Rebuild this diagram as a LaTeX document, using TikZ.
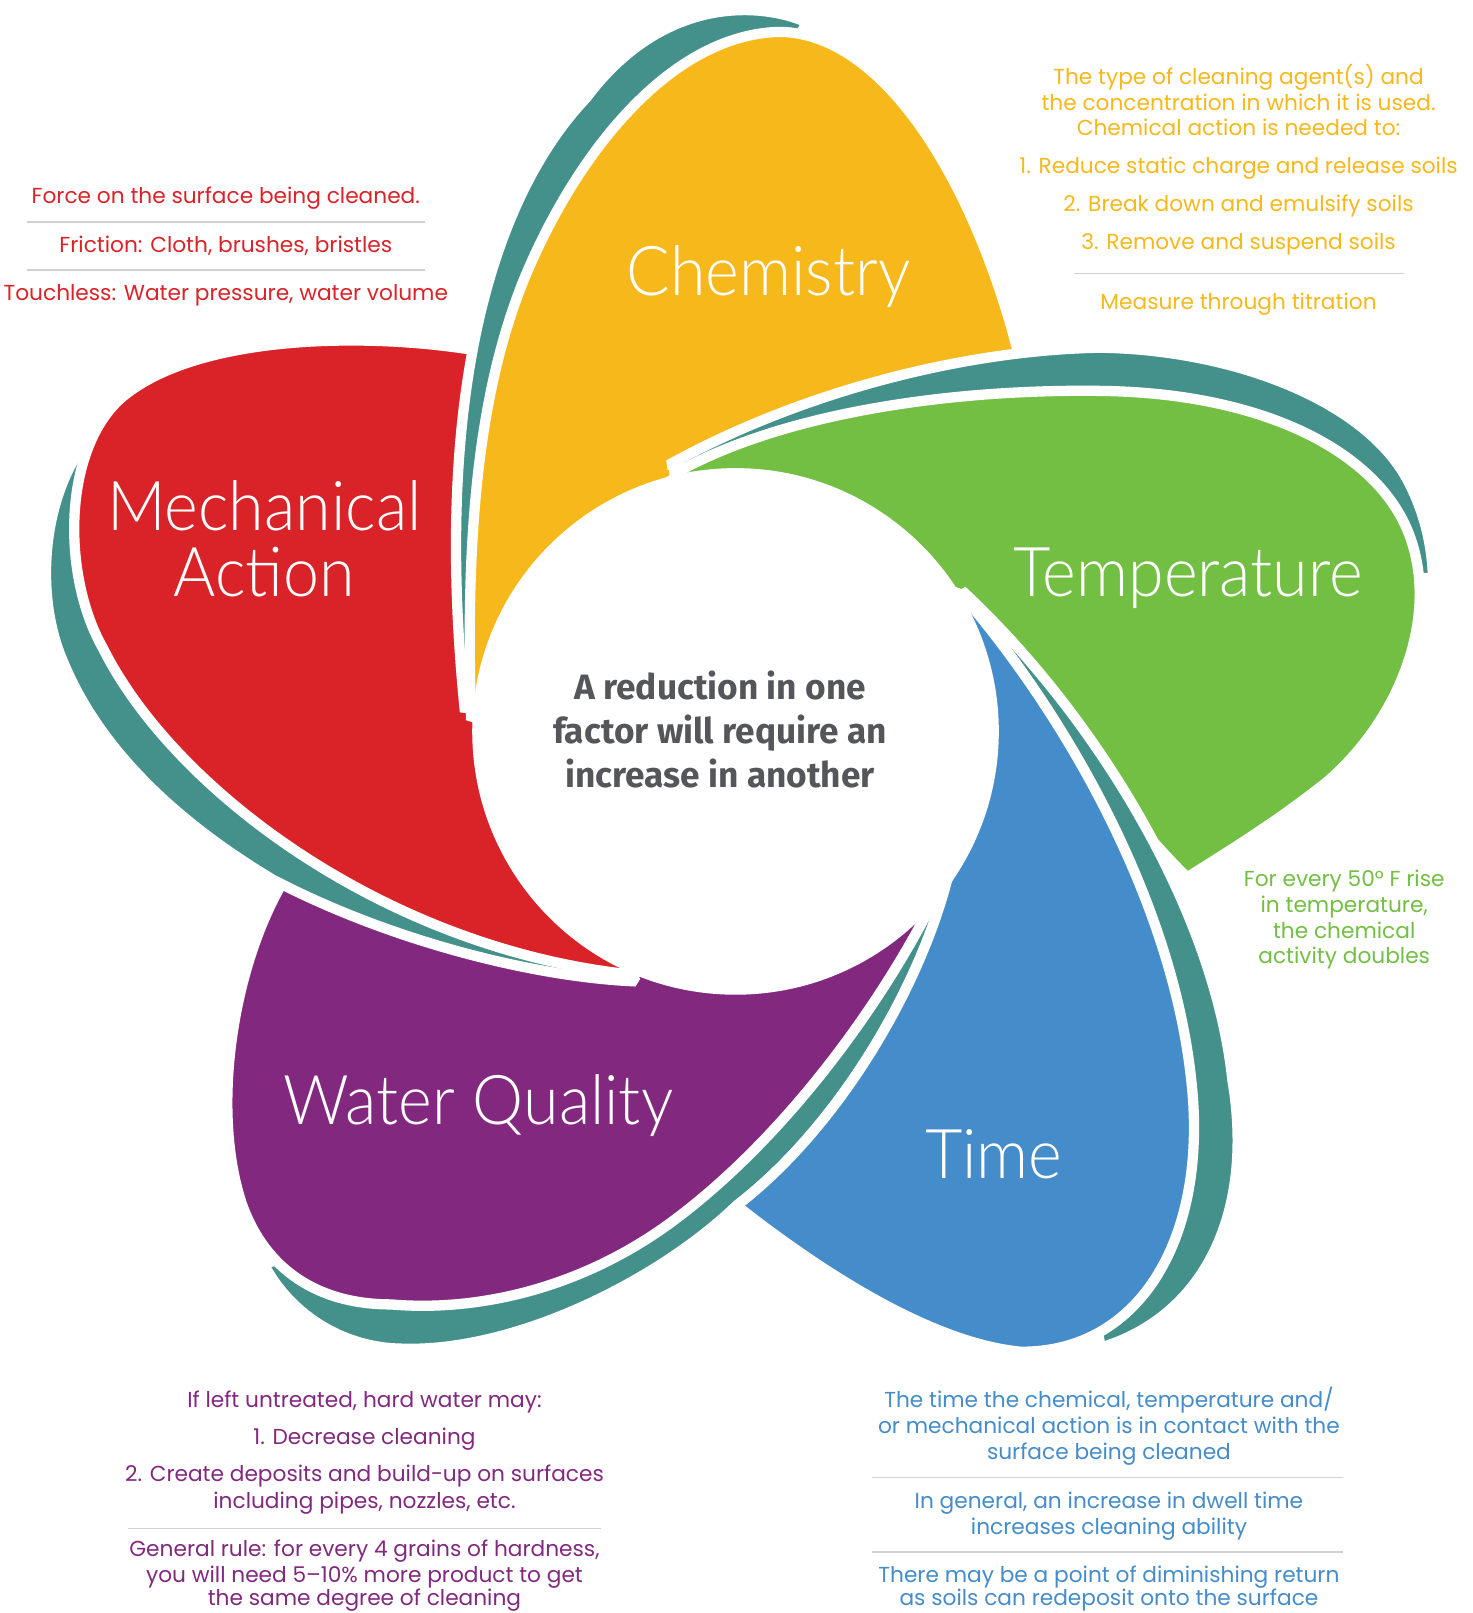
\documentclass[tikz,border=0pt]{standalone}
\usepackage{fontspec}
\setmainfont{Poppins}
\newfontfamily\titlefont{Lato Light}[FakeStretch=0.94]
\newfontfamily\hubfont{Fira Sans}

\definecolor{chemyellow}{HTML}{F6B81B}
\definecolor{tempgreen}{HTML}{72BF44}
\definecolor{timeblue}{HTML}{458CCA}
\definecolor{waterpurple}{HTML}{82297F}
\definecolor{mechred}{HTML}{DA2328}
\definecolor{bandteal}{HTML}{43918A}
\definecolor{hubgrey}{HTML}{55565A}
\definecolor{rulegrey}{HTML}{D0D0D0}

\tikzset{
  petal/.style={fill=#1, draw=white, line width=0.2cm, line join=bevel},
  petaltitle/.style={text=white, anchor=base, inner sep=0pt,
    font=\titlefont\fontsize{38}{40}\selectfont},
  notetext/.style={text=#1, anchor=base, inner sep=0pt,
    font=\fontsize{12}{14}\selectfont},
  hubtext/.style={text=hubgrey, align=center,
    font=\hubfont\bfseries\fontsize{19.5}{24.4}\selectfont},
  seprule/.style={draw=rulegrey, line width=0.9pt},
}

\begin{document}
\begin{tikzpicture}[x=0.02cm, y=-0.02cm]
  \useasboundingbox (0,0) rectangle (1431,1568);

  % Water Quality band and petal
  \path[petal=bandteal] (920,858) .. controls (890,970) and (810,1100) .. (716,1172)
    .. controls (640,1245) and (500,1315) .. (390,1311)
    .. controls (330,1310) and (280,1275) .. (256,1228)
    -- (400,1200) -- (700,1050) -- (905,868) -- cycle;
  \path[petal=waterpurple] (915,860) .. controls (860,975) and (760,1110) .. (650,1190)
    .. controls (560,1255) and (460,1275) .. (380,1268)
    .. controls (310,1268) and (258,1235) .. (235,1170)
    .. controls (205,1080) and (225,940) .. (277,854)
    -- (290,825) .. controls (450,900) and (600,945) .. (700,930) -- cycle;

  % Mechanical Action band and petal
  \path[petal=bandteal] (80,434) .. controls (40,490) and (35,580) .. (60,640)
    .. controls (100,740) and (190,810) .. (265,855)
    .. controls (380,915) and (520,950) .. (618,954)
    -- (560,850) -- (300,620) -- cycle;
  \path[petal=mechred] (470,342) .. controls (380,325) and (200,320) .. (120,385)
    .. controls (60,435) and (60,560) .. (100,630)
    .. controls (170,770) and (380,925) .. (620,948)
    -- (540,820) -- (490,690) -- cycle;

  % Chemistry band and petal
  \path[petal=bandteal] (785,22) .. controls (740,2) and (645,-5) .. (570,95)
    .. controls (480,190) and (420,380) .. (452,692)
    -- (520,500) -- (700,150) -- cycle;
  \path[petal=chemyellow] (458,700) .. controls (452,520) and (465,380) .. (510,270)
    .. controls (560,150) and (650,35) .. (756,31)
    .. controls (860,30) and (950,180) .. (992,352)
    .. controls (880,365) and (720,420) .. (615,490)
    -- (560,560) -- cycle;

  % Temperature band and petal
  \path[petal=bandteal] (650,452) .. controls (780,380) and (940,340) .. (1070,338)
    .. controls (1200,340) and (1330,390) .. (1370,470)
    .. controls (1385,500) and (1392,530) .. (1393,562)
    -- (1250,560) -- (900,500) -- cycle;
  \path[petal=tempgreen] (653,462) .. controls (760,400) and (930,378) .. (1070,380)
    .. controls (1230,382) and (1340,440) .. (1370,520)
    .. controls (1400,600) and (1360,700) .. (1290,760)
    .. controls (1240,800) and (1190,830) .. (1154,853)
    .. controls (1085,785) and (985,650) .. (935,578)
    -- (800,530) -- cycle;

  % Time band and petal
  \path[petal=bandteal] (935,574) .. controls (1060,690) and (1180,880) .. (1198,1050)
    .. controls (1220,1180) and (1170,1280) .. (1070,1310)
    -- (1050,1200) -- (1000,800) -- cycle;
  \path[petal=timeblue] (935,578) .. controls (1040,700) and (1140,880) .. (1158,1050)
    .. controls (1175,1200) and (1110,1315) .. (992,1314)
    .. controls (900,1305) and (790,1230) .. (716,1172)
    .. controls (810,1100) and (890,970) .. (920,858)
    -- (940,790) -- (945,640) -- cycle;

  % Hub
  \fill[white] (715,711) circle[radius=5.12cm];
  \node[hubtext] (hub) at (700,709) {A reduction in one\\factor will require an\\increase in another};

  % Petal names
  \node[petaltitle] (chemtitle) at (747,287) {Chemistry};
  \node[petaltitle] (temptitle) at (1155,580) {Temperature};
  \node[petaltitle] (timetitle) at (966,1146) {Time};
  \node[petaltitle] (watertitle) at (465,1093) {Water Quality};
  \node[petaltitle] (mechtitleA) at (257,516) {Mechanical};
  \node[petaltitle] (mechtitleB) at (257,580) {Action};

  % Mechanical Action notes
  \foreach \txt/\yy [count=\i] in {{Force on the surface being cleaned.}/198,
      {Friction: Cloth, brushes, bristles}/245,
      {Touchless: Water pressure, water volume}/292}
    \node[notetext=mechred] (mechnote\i) at (219.5,\yy) {\txt};
  \draw[seprule] (26,216) -- (413,216);
  \draw[seprule] (26,262.5) -- (413,262.5);

  % Chemistry notes
  \foreach \txt/\yy [count=\i] in {{The type of cleaning agent(s) and}/82.6,
      {the concentration in which it is used.}/107.6,
      {Chemical action is needed to:}/132.2,
      {1. Reduce static charge and release soils}/169.1,
      {2. Break down and emulsify soils}/205.8,
      {3. Remove and suspend soils}/242.1,
      {Measure through titration}/300.7}
    \node[notetext=chemyellow] (chemnote\i) at (1204,\yy) {\txt};
  \draw[seprule] (1044,265.7) -- (1365,265.7);

  % Temperature notes
  \foreach \txt/\yy [count=\i] in {{For every 50° F rise}/862,
      {in temperature,}/887.2,
      {the chemical}/912.2,
      {activity doubles}/936.5}
    \node[notetext=tempgreen] (tempnote\i) at (1306.7,\yy) {\txt};

  % Water Quality notes
  \foreach \txt/\yy [count=\i] in {{If left untreated, hard water may:}/1368,
      {1. Decrease cleaning}/1404,
      {2. Create deposits and build-up on surfaces}/1440.3,
      {including pipes, nozzles, etc.}/1466.3,
      {General rule: for every 4 grains of hardness,}/1513.2,
      {you will need 5--10\% more product to get}/1538.5,
      {the same degree of cleaning}/1561}
    \node[notetext=waterpurple] (waternote\i) at (354.3,\yy) {\txt};
  \draw[seprule] (124.7,1485.7) -- (583.9,1485.7);

  % Time notes
  \foreach \txt/\yy [count=\i] in {{The time the chemical, temperature and/}/1368,
      {or mechanical action is in contact with the}/1393.3,
      {surface being cleaned}/1418.6,
      {In general, an increase in dwell time}/1466.3,
      {increases cleaning ability}/1491.2,
      {There may be a point of diminishing return}/1538.5,
      {as soils can redeposit onto the surface}/1561}
    \node[notetext=timeblue] (timenote\i) at (1078,\yy) {\txt};
  \draw[seprule] (847.4,1436.1) -- (1305.8,1436.1);
  \draw[seprule] (847.4,1508.4) -- (1305.8,1508.4);
\end{tikzpicture}
\end{document}
